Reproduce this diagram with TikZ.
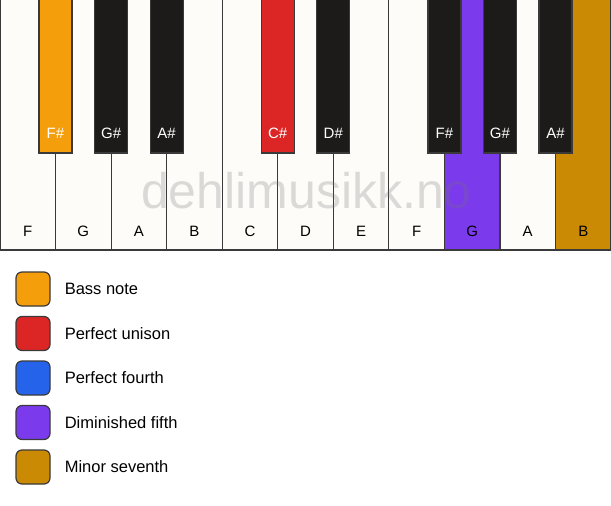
\documentclass[tikz,border=0pt]{standalone}
\usepackage{fontspec}
\setmainfont{Liberation Sans}
\usetikzlibrary{positioning}
\definecolor{keywhite}{HTML}{FDFCF9}
\definecolor{keyblack}{HTML}{1C1B1A}
\definecolor{keyline}{HTML}{3A3A3A}
\definecolor{bassnote}{HTML}{F59E0B}
\definecolor{unison}{HTML}{DC2626}
\definecolor{fourth}{HTML}{2563EB}
\definecolor{dimfifth}{HTML}{7C3AED}
\definecolor{minseventh}{HTML}{CA8A04}

\begin{document}
\begin{tikzpicture}[x=1pt,y=-1pt,
  whitekey/.style={draw=keyline,line width=1.2pt,fill=keywhite},
  blackkey/.style={draw=keyline,line width=1.2pt,fill=keyblack},
  keylabel/.style={font=\fontsize{15}{17}\selectfont,inner sep=0pt},
  legendbox/.style={draw=keyline,line width=1.2pt,rounded corners=6pt,minimum size=34pt,inner sep=0pt},
  legendtext/.style={font=\fontsize{16.5}{19}\selectfont,inner sep=0pt,anchor=west}]
\useasboundingbox (0,0) rectangle (611,506);
\fill[white] (0,0) rectangle (611,506);
% white keys
\draw[whitekey] (0,-2) rectangle (55.5,250);
\draw[whitekey] (55.5,-2) rectangle (111.1,250);
\draw[whitekey] (111.1,-2) rectangle (166.6,250);
\draw[whitekey] (166.6,-2) rectangle (222.2,250);
\draw[whitekey] (222.2,-2) rectangle (277.7,250);
\draw[whitekey] (277.7,-2) rectangle (333.3,250);
\draw[whitekey] (333.3,-2) rectangle (388.8,250);
\draw[whitekey] (388.8,-2) rectangle (444.4,250);
\draw[whitekey,fill=dimfifth] (444.4,-2) rectangle (500,250);
\draw[whitekey] (500,-2) rectangle (555.5,250);
\draw[whitekey,fill=minseventh] (555.5,-2) rectangle (611,250);
\node[keylabel] (f1) at (27.8,231) {F};
\node[keylabel] (g1) at (83.3,231) {G};
\node[keylabel] (a1) at (138.9,231) {A};
\node[keylabel] (b1) at (194.4,231) {B};
\node[keylabel] (c2) at (250,231) {C};
\node[keylabel] (d2) at (305.5,231) {D};
\node[keylabel] (e2) at (361.1,231) {E};
\node[keylabel] (f2) at (416.6,231) {F};
\node[keylabel] (g2) at (472.2,231) {G};
\node[keylabel] (a2) at (527.7,231) {A};
\node[keylabel] (b2) at (583.3,231) {B};
% black keys
\draw[blackkey,fill=bassnote] (39,-2) rectangle (72,153);
\draw[blackkey] (94.6,-2) rectangle (127.6,153);
\draw[blackkey] (150.1,-2) rectangle (183.1,153);
\draw[blackkey,fill=unison] (261.2,-2) rectangle (294.2,153);
\draw[blackkey] (316.8,-2) rectangle (349.8,153);
\draw[blackkey] (427.9,-2) rectangle (460.9,153);
\draw[blackkey] (483.5,-2) rectangle (516.5,153);
\draw[blackkey] (539,-2) rectangle (572,153);
\node[keylabel,text=white] (fs1) at (55.5,133) {F\#};
\node[keylabel,text=white] (gs1) at (111.1,133) {G\#};
\node[keylabel,text=white] (as1) at (166.6,133) {A\#};
\node[keylabel,text=white] (cs2) at (277.7,133) {C\#};
\node[keylabel,text=white] (ds2) at (333.3,133) {D\#};
\node[keylabel,text=white] (fs2) at (444.4,133) {F\#};
\node[keylabel,text=white] (gs2) at (500,133) {G\#};
\node[keylabel,text=white] (as2) at (555.5,133) {A\#};
% watermark
\node[font=\fontsize{50}{54}\selectfont,text=black!55,opacity=0.25,inner sep=0pt,anchor=base] (mark) at (306.5,208) {dehlimusikk.no};
% legend
\node[legendbox,fill=bassnote] (bass) at (33,289) {};
\node[legendbox,fill=unison] (uni) at (33,333.5) {};
\node[legendbox,fill=fourth] (four) at (33,378) {};
\node[legendbox,fill=dimfifth] (dim) at (33,422.5) {};
\node[legendbox,fill=minseventh] (sev) at (33,467) {};
\node[legendtext,right=14pt of bass] (basstext) {Bass note};
\node[legendtext,right=14pt of uni] (unitext) {Perfect unison};
\node[legendtext,right=14pt of four] (fourtext) {Perfect fourth};
\node[legendtext,right=14pt of dim] (dimtext) {Diminished fifth};
\node[legendtext,right=14pt of sev] (sevtext) {Minor seventh};
\end{tikzpicture}
\end{document}
